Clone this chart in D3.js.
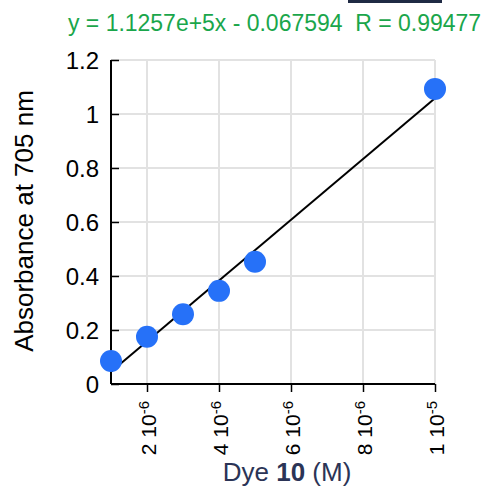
<!DOCTYPE html>
<html>
<head>
<meta charset="utf-8">
<script src="https://cdn.jsdelivr.net/npm/d3@7"></script>
<style>
  body { margin: 0; background: #fff; }
  text { font-family: "Liberation Sans", Arial, sans-serif; }
</style>
</head>
<body>
<div id="plot"></div>
<script>
// data
var conc = [1e-6, 2e-6, 3e-6, 4e-6, 5e-6, 1e-5];
var absorb = [0.085, 0.175, 0.258, 0.345, 0.453, 1.093];
var xTicks = [2e-6, 4e-6, 6e-6, 8e-6, 1e-5];
var xTickMant = ["2", "4", "6", "8", "1"];
var xTickExp = ["-6", "-6", "-6", "-6", "-5"];
var yTicks = [0, 0.2, 0.4, 0.6, 0.8, 1, 1.2];
var fitSlope = 1.1257e5, fitIntercept = -0.067594;
var fitText = "y = 1.1257e+5x - 0.067594  R = 0.99477";

const W = 485, H = 488;
const margin = {top: 60, right: 50, bottom: 104, left: 111},
    width = 435 - margin.left,
    height = 384 - margin.top;

var svg = d3.select("div#plot")
  .append("svg")
    .attr("width", W)
    .attr("height", H);

// bit of the cropped title above
svg.append("rect")
  .attr("x", 348).attr("y", 0).attr("width", 94).attr("height", 3)
  .attr("fill", "#1f2a44");

var g = svg.append("g")
    .attr("transform", "translate(" + margin.left + "," + margin.top + ")");

var x = d3.scaleLinear().domain([1e-6, 1e-5]).range([0, width]);
var y = d3.scaleLinear().domain([0, 1.2]).range([height, 0]);

// grid
g.append("g").selectAll("line")
  .data(xTicks).enter().append("line")
    .attr("x1", d => x(d)).attr("x2", d => x(d))
    .attr("y1", 0).attr("y2", height)
    .attr("stroke", "#e2e2e2").attr("stroke-width", 2);
g.append("g").selectAll("line")
  .data(yTicks.slice(1)).enter().append("line")
    .attr("x1", 0).attr("x2", width)
    .attr("y1", d => y(d)).attr("y2", d => y(d))
    .attr("stroke", "#e2e2e2").attr("stroke-width", 2);

// y axis, ticks point inward
var yAxis = g.append("g")
  .call(d3.axisRight(y).tickValues(yTicks).tickSize(8).tickFormat(d3.format("")));
yAxis.select(".domain").attr("stroke-width", 2).attr("d", "M0,0V" + height);
yAxis.selectAll(".tick line").attr("stroke-width", 1.5);
yAxis.selectAll(".tick text")
  .attr("x", -12).attr("dy", "0.36em")
  .attr("text-anchor", "end")
  .style("font-size", "24px").attr("fill", "#000")
  .style("font-family", "'Liberation Sans', Arial, sans-serif");

// x axis
var xAxis = g.append("g")
  .attr("transform", "translate(0," + height + ")")
  .call(d3.axisBottom(x).tickValues(xTicks).tickSize(8).tickFormat(""));
xAxis.select(".domain").attr("stroke-width", 2).attr("d", "M0,0H" + width);
xAxis.selectAll(".tick line").attr("stroke-width", 1.5);
xAxis.selectAll(".tick").each(function(d, i) {
  var t = d3.select(this).append("text")
    .attr("transform", "translate(8,17) rotate(-90)")
    .attr("text-anchor", "end")
    .attr("fill", "#000")
    .style("font-size", "21px")
    .style("font-family", "'Liberation Sans', Arial, sans-serif");
  t.append("tspan").text(xTickMant[i] + " 10");
  t.append("tspan").attr("dy", "-0.45em").style("font-size", "15px").text(xTickExp[i]);
});

// fit line
var line = d3.line()
  .x(d => x(d))
  .y(d => y(fitSlope * d + fitIntercept));
g.append("path")
  .datum(d3.extent(conc))
  .attr("fill", "none")
  .attr("stroke", "#000")
  .attr("stroke-width", 2)
  .attr("d", line);

// points
g.selectAll("circle")
  .data(conc).enter().append("circle")
    .attr("cx", d => x(d))
    .attr("cy", (d, i) => y(absorb[i]))
    .attr("r", 11)
    .attr("fill", "#2671f8");

// axis titles
var xt = svg.append("text")
  .attr("x", 287).attr("y", 481)
  .attr("text-anchor", "middle")
  .attr("fill", "#2b3456")
  .style("font-size", "26px");
xt.append("tspan").text("Dye ");
xt.append("tspan").style("font-weight", "bold").text("10");
xt.append("tspan").text(" (M)");

svg.append("text")
  .attr("transform", "translate(33,221) rotate(-90)")
  .attr("text-anchor", "middle")
  .attr("fill", "#000")
  .style("font-size", "26px")
  .text("Absorbance at 705 nm");

// fit equation
svg.append("text")
  .attr("x", 68).attr("y", 31)
  .attr("fill", "#1aa64b")
  .style("font-size", "23px")
  .style("white-space", "pre")
  .attr("xml:space", "preserve")
  .attr("textLength", 413)
  .attr("lengthAdjust", "spacingAndGlyphs")
  .text(fitText);
</script>
</body>
</html>
